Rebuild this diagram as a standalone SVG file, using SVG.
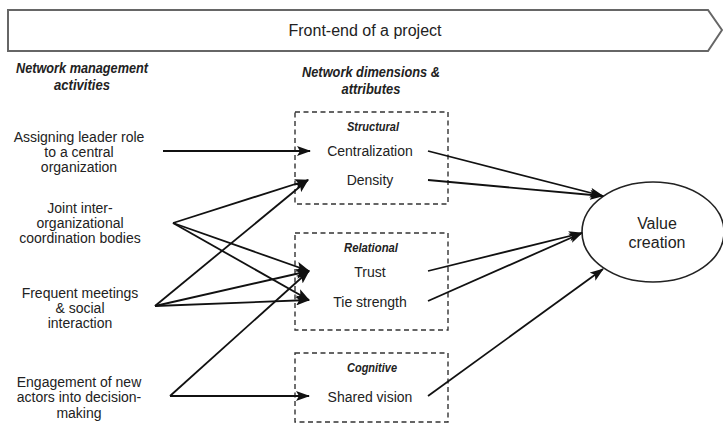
<svg xmlns="http://www.w3.org/2000/svg" width="723" height="425" viewBox="0 0 723 425">
<style>
.t{font-family:"Liberation Sans",Arial,sans-serif;font-size:14px;fill:#222;text-anchor:middle}
.h{font-family:"Liberation Sans",Arial,sans-serif;font-size:14px;font-weight:bold;font-style:italic;fill:#222;text-anchor:middle}
.hs{font-family:"Liberation Sans",Arial,sans-serif;font-size:12.5px;font-weight:bold;font-style:italic;fill:#222;text-anchor:middle}
.box{fill:none;stroke:#333;stroke-width:1.4;stroke-dasharray:5 3.5}
.ln{stroke:#111;stroke-width:1.8;fill:none;marker-end:url(#ah)}
</style>
<defs>
<marker id="ah" markerUnits="userSpaceOnUse" markerWidth="14" markerHeight="10" refX="13" refY="5" orient="auto">
<path d="M0,0 L14,5 L0,10 L3,5 Z" fill="#111"/>
</marker>
</defs>
<rect width="723" height="425" fill="#fff"/>
<g id="banner">
<polygon points="8,10 708,10 722,30 708,51 8,51" fill="#fff" stroke="#666" stroke-width="2"/>
<text class="t" x="365" y="36" style="font-size:16px">Front-end of a project</text>
</g>
<g id="headings">
<text class="h" x="82" y="73" textLength="132" lengthAdjust="spacingAndGlyphs">Network management</text>
<text class="h" x="82" y="90" textLength="56" lengthAdjust="spacingAndGlyphs">activities</text>
<text class="h" x="371" y="77" textLength="138" lengthAdjust="spacingAndGlyphs">Network dimensions &amp;</text>
<text class="h" x="371" y="94" textLength="59" lengthAdjust="spacingAndGlyphs">attributes</text>
</g>
<g id="act-leader">
<text class="t" x="79" y="142">Assigning leader role</text>
<text class="t" x="79" y="157">to a central</text>
<text class="t" x="79" y="172">organization</text>
</g>
<g id="act-joint">
<text class="t" x="80" y="213">Joint inter-</text>
<text class="t" x="80" y="228">organizational</text>
<text class="t" x="80" y="243">coordination bodies</text>
</g>
<g id="act-meetings">
<text class="t" x="80" y="298">Frequent meetings</text>
<text class="t" x="80" y="313">&amp; social</text>
<text class="t" x="80" y="328">interaction</text>
</g>
<g id="act-engagement">
<text class="t" x="79" y="387">Engagement of new</text>
<text class="t" x="79" y="402">actors into decision-</text>
<text class="t" x="79" y="418">making</text>
</g>
<g id="structural">
<rect class="box" x="295" y="112" width="153" height="92"/>
<text class="hs" x="373" y="131" textLength="52" lengthAdjust="spacingAndGlyphs">Structural</text>
<text class="t" x="370" y="156">Centralization</text>
<text class="t" x="370" y="185">Density</text>
</g>
<g id="relational">
<rect class="box" x="295" y="233" width="153" height="97"/>
<text class="hs" x="371" y="252" textLength="54" lengthAdjust="spacingAndGlyphs">Relational</text>
<text class="t" x="370" y="277">Trust</text>
<text class="t" x="370" y="307">Tie strength</text>
</g>
<g id="cognitive">
<rect class="box" x="295" y="353" width="153" height="69"/>
<text class="hs" x="372" y="372" textLength="50" lengthAdjust="spacingAndGlyphs">Cognitive</text>
<text class="t" x="370" y="402">Shared vision</text>
</g>
<g id="value-creation">
<ellipse cx="653" cy="232" rx="71" ry="50" fill="#fff" stroke="#222" stroke-width="1.6"/>
<text class="t" x="657" y="229" style="font-size:16px">Value</text>
<text class="t" x="657" y="248" style="font-size:16px">creation</text>
</g>
<g id="connectors">
<line class="ln" x1="163" y1="151" x2="310" y2="151"/>
<line class="ln" x1="173" y1="223" x2="308" y2="180"/>
<line class="ln" x1="173" y1="223" x2="309" y2="271"/>
<line class="ln" x1="173" y1="223" x2="309" y2="300"/>
<line class="ln" x1="155" y1="306" x2="308" y2="180"/>
<line class="ln" x1="155" y1="306" x2="309" y2="271"/>
<line class="ln" x1="155" y1="306" x2="309" y2="300"/>
<line class="ln" x1="170" y1="396" x2="309" y2="271"/>
<line class="ln" x1="170" y1="396" x2="309" y2="396"/>
<line class="ln" x1="428" y1="151" x2="603" y2="196"/>
<line class="ln" x1="428" y1="180" x2="603" y2="196"/>
<line class="ln" x1="428" y1="271" x2="582" y2="233"/>
<line class="ln" x1="428" y1="301" x2="582" y2="233"/>
<line class="ln" x1="428" y1="396" x2="603" y2="269"/>
</g>
</svg>
